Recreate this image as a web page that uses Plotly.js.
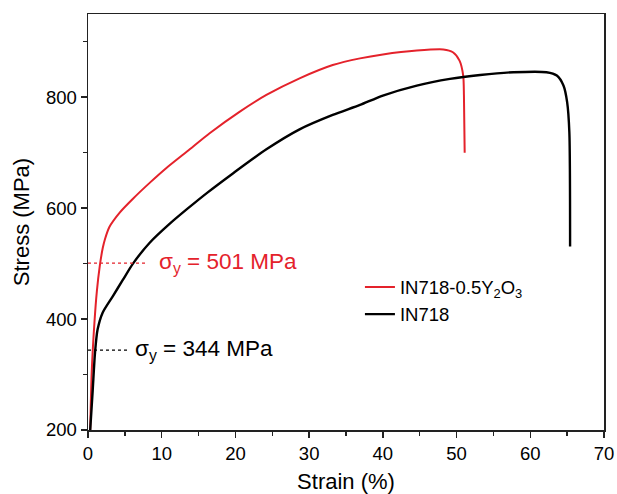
<!DOCTYPE html>
<html>
<head>
<meta charset="utf-8">
<script src="https://cdn.plot.ly/plotly-3.0.1.min.js"></script>
<style>html,body{margin:0;padding:0;background:#fff;}#chart{width:617px;height:494px;}</style>
</head>
<body>
<div id="chart"></div>
<script>
// IN718-0.5Y2O3 (red)
const strainY2O3 = [0.3, 0.5, 0.87, 1.2, 1.6, 2.0, 2.3, 2.9, 4.3, 6.1, 8.4, 10.6, 13.8, 16.5, 20.6, 24.2, 28.7, 33.2, 36.9, 40, 44.6, 48.2, 49.5, 50.4, 50.9, 51.0, 51.1];
const stressY2O3 = [200, 303, 393, 450, 496, 528, 544, 566, 592, 617, 646, 672, 706, 735, 774, 804, 834, 858, 870, 877, 884, 886, 881, 866, 839, 803, 700];
// IN718 (black)
const strainIN718 = [0.3, 0.64, 0.95, 1.3, 2.0, 3.4, 4.7, 6.1, 8.4, 11.1, 13.5, 16.2, 19.7, 24.2, 28.7, 33.2, 36.9, 40, 44.6, 49.1, 53.2, 57.7, 62.2, 63.6, 64.5, 65.0, 65.3, 65.4];
const stressIN718 = [200, 272, 339, 381, 412, 442, 470, 500, 538, 572, 599, 628, 663, 706, 742, 768, 786, 803, 821, 833, 840, 845, 845, 839, 821, 791, 737, 531];
// yield strengths
const yieldY2O3 = 501;
const yieldIN718 = 344;
const yieldLineEndY2O3 = 8.1;
const yieldLineEndIN718 = 5.4;
const seriesNames = ['IN718-0.5Y<sub>2</sub>O<sub>3</sub>', 'IN718'];
const xTicks = [0, 10, 20, 30, 40, 50, 60, 70];
const yTicks = [200, 400, 600, 800];

const RED = '#e4222b';
const FONT = 'Liberation Sans, Arial, sans-serif';

const traces = [
  {x: strainY2O3, y: stressY2O3, mode: 'lines', name: seriesNames[0], line: {color: RED, width: 2, shape: 'spline', smoothing: 0.7}},
  {x: strainIN718, y: stressIN718, mode: 'lines', name: seriesNames[1], line: {color: '#000', width: 2.4, shape: 'spline', smoothing: 0.7}},
  {x: [0, yieldLineEndY2O3], y: [yieldY2O3, yieldY2O3], mode: 'lines', showlegend: false, line: {color: RED, width: 1.2, dash: 'dot'}},
  {x: [0, yieldLineEndIN718], y: [yieldIN718, yieldIN718], mode: 'lines', showlegend: false, line: {color: '#000', width: 1.2, dash: 'dot'}}
];

const layout = {
  width: 617, height: 494,
  margin: {l: 88, r: 13, t: 14, b: 64},
  paper_bgcolor: '#fff', plot_bgcolor: '#fff',
  font: {family: FONT, color: '#000', size: 18.5},
  showlegend: true,
  legend: {x: 0.527, y: 0.388, xanchor: 'left', yanchor: 'top', bgcolor: 'rgba(0,0,0,0)', font: {size: 18.5, family: FONT}, tracegroupgap: 0},
  xaxis: {
    range: [0, 70], tickvals: xTicks, ticks: 'outside', ticklen: 6, tickwidth: 1.5, tickcolor: '#222',
    showline: true, linecolor: '#222', linewidth: 1.5, mirror: true, showgrid: false, zeroline: false,
    minor: {dtick: 5, tick0: 0, ticks: 'outside', ticklen: 4, tickwidth: 1.5, tickcolor: '#222', showgrid: false},
    tickfont: {size: 18.5, family: FONT},
    title: {text: 'Strain (%)', font: {size: 22, family: FONT}, standoff: 13}
  },
  yaxis: {
    range: [200, 950], tickvals: yTicks, ticks: 'outside', ticklen: 6, tickwidth: 1.5, tickcolor: '#222',
    showline: true, linecolor: '#222', linewidth: 1.5, mirror: true, showgrid: false, zeroline: false,
    minor: {dtick: 100, tick0: 200, ticks: 'outside', ticklen: 4, tickwidth: 1.5, tickcolor: '#222', showgrid: false},
    tickfont: {size: 18.5, family: FONT},
    title: {text: 'Stress (MPa)', font: {size: 22, family: FONT}, standoff: 10}
  },
  annotations: [
    {x: 9.3, y: yieldY2O3, xref: 'x', yref: 'y', xanchor: 'left', yanchor: 'middle', showarrow: false,
     text: 'σ<sub>y</sub> = 501 MPa', font: {size: 22.5, color: RED, family: FONT}},
    {x: 6.1, y: yieldIN718, xref: 'x', yref: 'y', xanchor: 'left', yanchor: 'middle', showarrow: false,
     text: 'σ<sub>y</sub> = 344 MPa', font: {size: 22.5, color: '#000', family: FONT}}
  ]
};

Plotly.newPlot('chart', traces, layout, {staticPlot: true, displayModeBar: false});
</script>
</body>
</html>
